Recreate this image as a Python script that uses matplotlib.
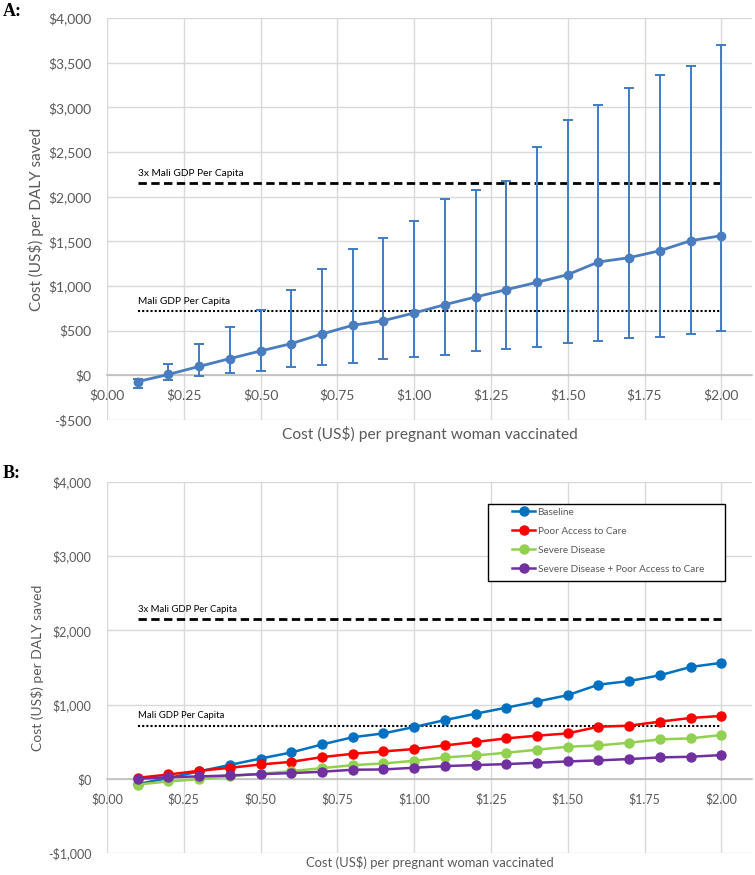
import matplotlib
matplotlib.use("Agg")
import matplotlib.pyplot as plt
from matplotlib.ticker import FuncFormatter
from matplotlib.patches import Rectangle

plt.rcParams['font.family'] = ['Lato', 'DejaVu Sans']

# ---- data ----
x = [0.1, 0.2, 0.3, 0.4, 0.5, 0.6, 0.7, 0.8, 0.9, 1.0,
     1.1, 1.2, 1.3, 1.4, 1.5, 1.6, 1.7, 1.8, 1.9, 2.0]
baseline = [-70, 10, 100, 187, 273, 355, 463, 560, 612, 698,
            791, 877, 959, 1041, 1127, 1269, 1317, 1395, 1507, 1563]
upper = [-40, 127, 355, 541, 727, 959, 1194, 1410, 1535, 1730,
         1974, 2070, 2179, 2551, 2853, 3029, 3219, 3361, 3458, 3697]
lower = [-140, -48, -5, 30, 53, 94, 120, 134, 183, 209,
         232, 269, 295, 313, 358, 380, 414, 425, 459, 492]
poor_access = [13, 58, 108, 148, 193, 229, 292, 337, 369, 401,
               450, 496, 545, 581, 612, 702, 716, 770, 820, 847]
severe = [-77, -36, -5, 36, 68, 103, 144, 184, 207, 243,
          288, 315, 351, 392, 432, 450, 486, 531, 545, 590]
severe_poor = [0, 22, 32, 45, 63, 77, 95, 122, 126, 149,
               171, 185, 198, 216, 234, 248, 266, 288, 297, 320]
gdp = 716
gdp3 = 2148
gdp_label = "Mali GDP Per Capita"
gdp3_label = "3x Mali GDP Per Capita"
series_labels = ["Baseline", "Poor Access to Care", "Severe Disease",
                 "Severe Disease + Poor Access to Care"]
series_colors = ['#0070c0', '#ff0000', '#92d050', '#7030a0']
xticks = [0.0, 0.25, 0.5, 0.75, 1.0, 1.25, 1.5, 1.75, 2.0]
yticksA = [-500, 0, 500, 1000, 1500, 2000, 2500, 3000, 3500, 4000]
yticksB = [-1000, 0, 1000, 2000, 3000, 4000]

W, H = 755, 875
fig = plt.figure(figsize=(W / 100, H / 100), dpi=100)

def px_axes(left, top, right, bottom):
    return fig.add_axes([left / W, 1 - bottom / H, (right - left) / W, (bottom - top) / H])

axA = px_axes(107, 18, 752, 420)
axB = px_axes(107, 482, 752, 853)

grid_c = '#d9d9d9'
tick_c = '#595959'

def money(v, dec=0):
    s = f"${abs(v):,.{dec}f}"
    return "-" + s if v < 0 else s

def style(ax, yticks, fs_tick, fs_xlab, fs_ylab, ypad):
    ax.set_xlim(0, 2.1)
    ax.set_ylim(yticks[0], yticks[-1])
    ax.set_xticks(xticks)
    ax.set_yticks(yticks)
    ax.xaxis.set_major_formatter(FuncFormatter(lambda v, p: money(v, dec=2)))
    ax.yaxis.set_major_formatter(FuncFormatter(lambda v, p: money(v)))
    ax.grid(True, color=grid_c, lw=1.0)
    ax.set_axisbelow(True)
    for s in ['top', 'right', 'left']:
        ax.spines[s].set_visible(False)
    ax.spines['bottom'].set_position(('data', 0))
    ax.spines['bottom'].set_color('#bfbfbf')
    ax.spines['bottom'].set_linewidth(1.2)
    ax.tick_params(axis='both', length=0, colors=tick_c, labelsize=fs_tick)
    ax.tick_params(axis='y', pad=11)
    ax.tick_params(axis='x', pad=10)
    ax.set_xlabel("Cost (US$) per pregnant woman vaccinated", color=tick_c, fontsize=fs_xlab)
    ax.set_ylabel("Cost (US$) per DALY saved", color=tick_c, fontsize=fs_ylab, labelpad=ypad)

def ref_lines(ax, fs):
    ax.plot([x[0], x[-1]], [gdp3, gdp3], color='black', lw=2.0, ls=(0, (3, 1.6)), zorder=3)
    ax.plot([x[0], x[-1]], [gdp, gdp], color='black', lw=1.5, ls=(0, (1, 1)), zorder=3)
    ax.annotate(gdp3_label, (x[0], gdp3), xytext=(0, 4), textcoords='offset points',
                fontsize=fs, color='black', va='bottom', ha='left')
    ax.annotate(gdp_label, (x[0], gdp), xytext=(0, 4), textcoords='offset points',
                fontsize=fs, color='black', va='bottom', ha='left')

# ---- Panel A ----
style(axA, yticksA, 10, 11.2, 11, 3)
ref_lines(axA, 7.3)
yerr = [[b - l for b, l in zip(baseline, lower)], [u - b for u, b in zip(upper, baseline)]]
colA = '#4a7dbf'
axA.errorbar(x, baseline, yerr=yerr, color=colA, ecolor='#3f7bc2', elinewidth=1.4,
             capsize=3.5, capthick=1.4, lw=2.0, marker='o', ms=6, zorder=4)
axA.xaxis.set_label_coords(0.5, -6 / 402)

# ---- Panel B ----
style(axB, yticksB, 9, 9.4, 10, 3)
ref_lines(axB, 6.8)
for ys, lab, c in zip([baseline, poor_access, severe, severe_poor], series_labels, series_colors):
    axB.plot(x, ys, color=c, lw=1.8, marker='o', ms=6.5, label=lab, zorder=4)
axB.xaxis.set_label_coords(0.5, -3 / 371)

# legend box
axB.add_patch(Rectangle((0.5907, 0.7332), 0.958 - 0.5907, 0.9407 - 0.7332,
                        transform=axB.transAxes, facecolor='white', edgecolor='black',
                        lw=1.0, zorder=5))
leg = axB.legend(loc='upper left', bbox_to_anchor=(0.628, 0.93), frameon=False,
                 borderpad=0, borderaxespad=0, fontsize=7.2, labelspacing=1.0,
                 handlelength=2.3, handletextpad=0.25)
leg.set_zorder(6)
for t in leg.get_texts():
    t.set_color(tick_c)

# panel letters
fig.text(3 / W, 1 - 12 / H, "A:", fontsize=13, fontweight='bold', family='Liberation Serif', va='center')
fig.text(3 / W, 1 - 473 / H, "B:", fontsize=13, fontweight='bold', family='Liberation Serif', va='center')

fig.savefig("out.png", dpi=100)
